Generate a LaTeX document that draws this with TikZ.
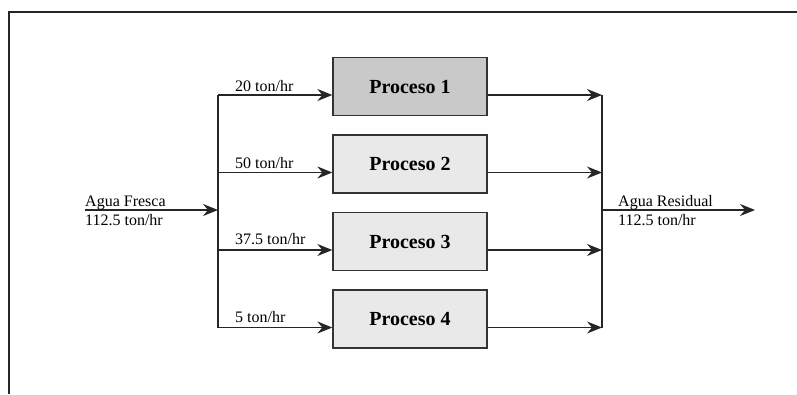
\documentclass[tikz,border=0pt]{standalone}
\usepackage{fontspec}
\setmainfont{Liberation Serif}
\usepackage{tikz}
\usetikzlibrary{arrows.meta,positioning}

\begin{document}
\begin{tikzpicture}[
  x=1pt, y=-1pt,
  node distance=18.2pt,
  proc/.style={draw=black!80, line width=1.3pt, minimum width=154pt,
    minimum height=58pt, inner sep=0pt, font=\fontsize{20}{22}\selectfont\bfseries},
  wire/.style={draw=black!85, line width=1.3pt},
  flow/.style={wire, -{Stealth[length=15pt, width=12pt, inset=5pt]}},
  lbl/.style={anchor=base west, inner sep=0pt, font=\fontsize{16}{18}\selectfont},
  frame/.style={draw=black!85, line width=2pt}
]
\useasboundingbox (0,0) rectangle (797,394);
\draw[frame] (797,12) -- (9,12) -- (9,394);

% processes
\node[proc, fill=gray!42] (p1) at (410,86.5) {Proceso 1};
\node[proc, fill=gray!17, below=of p1] (p2) {Proceso 2};
\node[proc, fill=gray!17, below=of p2] (p3) {Proceso 3};
\node[proc, fill=gray!17, below=of p3] (p4) {Proceso 4};

% split and merge points (streams enter below the box centre)
\coordinate (in) at (85,210);
\coordinate (sx) at (218,210);
\coordinate (mx) at (602,210);
\coordinate (out) at (755,210);
\foreach \i in {1,...,4} {
  \coordinate (e\i) at ([yshift=-8.5pt]p\i.west);
  \coordinate (x\i) at ([yshift=-8.5pt]p\i.east);
  \coordinate (s\i) at (e\i -| sx);
  \coordinate (m\i) at (x\i -| mx);
}

% fresh water in
\draw[flow] (in) -- (sx);
\node[lbl] (fresca) at (85,206) {Agua Fresca};
\node[lbl] (fresca-flow) at (85,225) {112.5 ton/hr};
\draw[wire] (s1) -- (s4);
\foreach \i in {1,...,4} \draw[flow] (s\i) -- (e\i);
\node[lbl] (f1) at (235,91) {20 ton/hr};
\node[lbl] (f2) at (235,168) {50 ton/hr};
\node[lbl] (f3) at (235,244) {37.5 ton/hr};
\node[lbl] (f4) at (235,322) {5 ton/hr};

% waste water out
\foreach \i in {1,...,4} \draw[flow] (x\i) -- (m\i);
\draw[wire] (m1) -- (m4);
\draw[flow] (mx) -- (out);
\node[lbl] (residual) at (618,206) {Agua Residual};
\node[lbl] (residual-flow) at (618,225) {112.5 ton/hr};
\end{tikzpicture}
\end{document}
